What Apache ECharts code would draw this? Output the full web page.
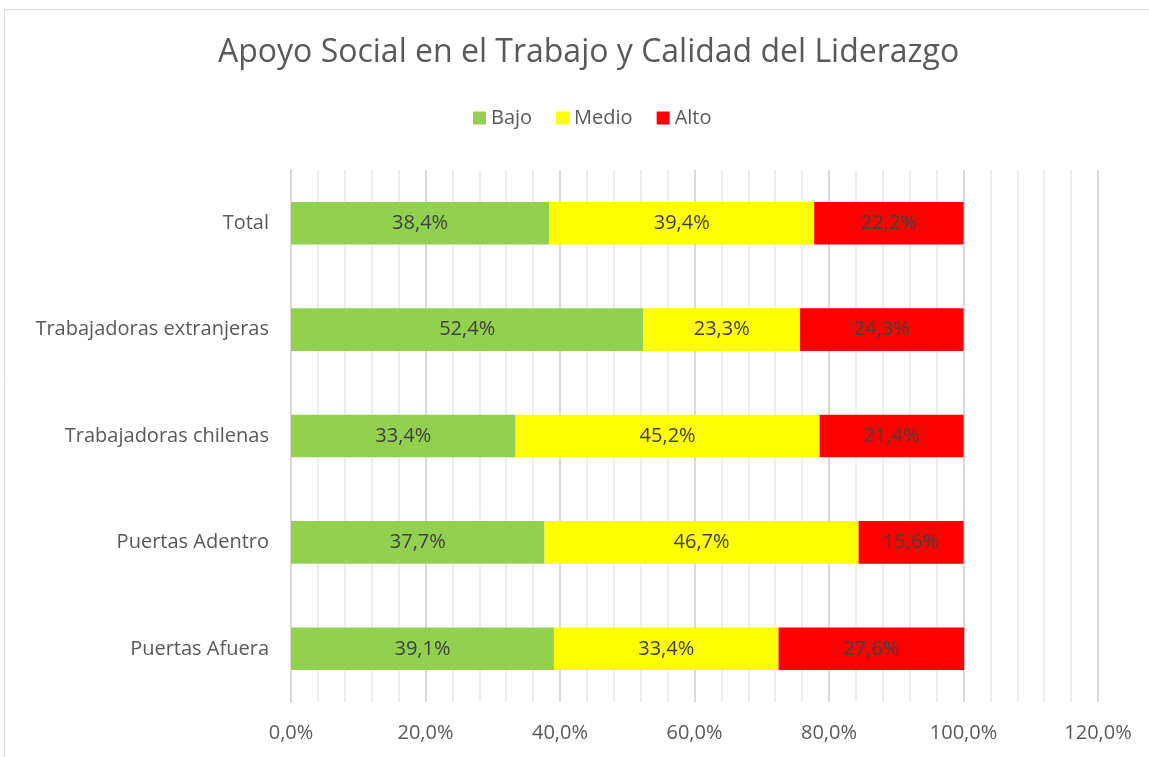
<!DOCTYPE html>
<html><head><meta charset="utf-8">
<script src="https://cdn.jsdelivr.net/npm/echarts@6/dist/echarts.min.js"></script>
<style>html,body{margin:0;padding:0;background:#fff}#c{width:1149px;height:757px}</style>
</head><body><div id="c"></div>
<script>
const categories = ['Total', 'Trabajadoras extranjeras', 'Trabajadoras chilenas', 'Puertas Adentro', 'Puertas Afuera'];
const bajo = [38.4, 52.4, 33.4, 37.7, 39.1];
const medio = [39.4, 23.3, 45.2, 46.7, 33.4];
const alto = [22.2, 24.3, 21.4, 15.6, 27.6];
const seriesNames = ['Bajo', 'Medio', 'Alto'];
const colors = ['#92d050', '#ffff00', '#ff0000'];
const FONT = 'Open Sans';
const fmt = v => v.toFixed(1).replace('.', ',') + '%';
const chart = echarts.init(document.getElementById('c'));
const mk = (name, data, color) => ({
  name, type: 'bar', stack: 'a', data, barWidth: '40%',
  itemStyle: { color },
  label: { show: true, position: 'inside', formatter: p => fmt(p.value), color: '#404040', fontSize: 20, fontFamily: FONT }
});
chart.setOption({
  animation: false,
  color: colors,
  graphic: [{ type: 'rect', shape: { x: 4.5, y: 9.5, width: 1200, height: 800 }, style: { fill: 'none', stroke: '#d9d9d9', lineWidth: 1 } }],
  title: { text: 'Apoyo Social en el Trabajo y Calidad del Liderazgo', left: 213, top: 32, textStyle: { fontFamily: FONT, fontSize: 32, fontWeight: 'normal', color: '#595959' } },
  legend: { top: 103, left: 468, itemWidth: 13, itemHeight: 13, itemGap: 24, icon: 'rect', textStyle: { fontFamily: FONT, fontSize: 20, color: '#595959' }, data: seriesNames },
  grid: { left: 291, right: 51, top: 170, bottom: 55 },
  xAxis: {
    type: 'value', min: 0, max: 120, interval: 20,
    axisLine: { show: false }, axisTick: { show: false },
    axisLabel: { formatter: fmt, fontFamily: FONT, fontSize: 20, color: '#595959', margin: 21 },
    splitLine: { show: true, lineStyle: { color: '#d9d9d9', width: 2 } },
    minorTick: { show: false, splitNumber: 5 },
    minorSplitLine: { show: true, lineStyle: { color: '#eeeeee', width: 2 } }
  },
  yAxis: {
    type: 'category', data: categories, inverse: true,
    axisLine: { show: true, lineStyle: { color: '#d9d9d9', width: 2 } }, axisTick: { show: false },
    axisLabel: { fontFamily: FONT, fontSize: 20, color: '#595959', margin: 22 }
  },
  series: [mk(seriesNames[0], bajo, colors[0]), mk(seriesNames[1], medio, colors[1]), mk(seriesNames[2], alto, colors[2])]
});
</script></body></html>
